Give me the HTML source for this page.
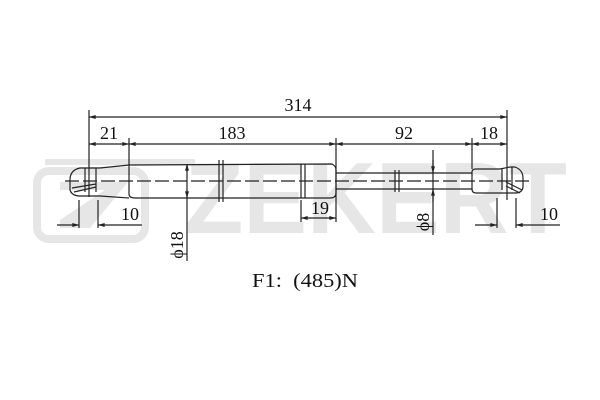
<!DOCTYPE html>
<html><head><meta charset="utf-8"><style>html,body{margin:0;padding:0;background:#fff}svg{display:block}</style></head>
<body>
<svg width="600" height="400" viewBox="0 0 600 400" xmlns="http://www.w3.org/2000/svg">
<defs>
<marker id="a" viewBox="0 0 10 6" refX="10" refY="3" markerWidth="10" markerHeight="4" orient="auto-start-reverse" markerUnits="userSpaceOnUse"><path d="M0,0 L10,3 L0,6z" fill="#222"/></marker>
</defs>
<g fill="#e6e6e6">
<rect x="45" y="159" width="150" height="6"/>
<rect x="37" y="171" width="108" height="68" rx="12" fill="none" stroke="#e6e6e6" stroke-width="8"/>
<path d="M60,182 L128,182 L90,228 L60,228 L60,220 L105,190 L60,190z" />
<text x="185" y="233" font-family="Liberation Sans, sans-serif" font-weight="bold" font-size="101" textLength="382" lengthAdjust="spacingAndGlyphs">ZEKERT</text>
</g>
<g stroke="#222" stroke-width="1.2" fill="none">
<line x1="65" y1="181" x2="530" y2="181" stroke-dasharray="14,4"/>
<path d="M129,165 L100,168 L80,168 Q70,170 70,180 L70,190 Q72,196 80,196 L100,196 L129,198"/>
<line x1="85" y1="168" x2="85" y2="192"/><line x1="96" y1="168" x2="96" y2="192"/>
<path d="M72,188 L96,184"/><path d="M74,192 L96,187"/>
<path d="M129,165 L332,164 Q336,166 336,170 L336,193 Q336,198 330,198 L135,198 Q129,198 129,194z"/>
<line x1="301" y1="164" x2="301" y2="198"/><line x1="305" y1="164" x2="305" y2="198"/>
<line x1="219" y1="160" x2="219" y2="202"/><line x1="223" y1="160" x2="223" y2="202"/>
<path d="M336,173 L472,173 M336,189 L472,189"/>
<line x1="395" y1="170" x2="395" y2="192"/><line x1="399" y1="170" x2="399" y2="192"/>
<path d="M472,172 Q472,169 476,169 L500,169 L510,167 L515,167 Q523,170 523,178 L523,186 Q523,193 515,193 L476,193 Q472,193 472,189z"/>
<line x1="502" y1="168" x2="502" y2="190"/><line x1="512" y1="167" x2="512" y2="190"/>
<path d="M506,182 L522,190"/><path d="M506,186 L520,193"/>
<line x1="89" y1="110" x2="89" y2="197"/>
<line x1="129" y1="138" x2="129" y2="165"/>
<line x1="336" y1="138" x2="336" y2="222"/>
<line x1="472" y1="138" x2="472" y2="169"/>
<line x1="507" y1="110" x2="507" y2="200"/>
<line x1="301" y1="200" x2="301" y2="222"/>
<line x1="79" y1="200" x2="79" y2="228"/><line x1="98" y1="200" x2="98" y2="228"/>
<line x1="497" y1="198" x2="497" y2="228"/><line x1="516" y1="198" x2="516" y2="228"/>
</g>
<g stroke="#222" stroke-width="1.2">
<line x1="89" y1="117" x2="507" y2="117" marker-start="url(#a)" marker-end="url(#a)"/>
<line x1="89" y1="144" x2="129" y2="144" marker-start="url(#a)" marker-end="url(#a)"/>
<line x1="129" y1="144" x2="336" y2="144" marker-start="url(#a)" marker-end="url(#a)"/>
<line x1="336" y1="144" x2="472" y2="144" marker-start="url(#a)" marker-end="url(#a)"/>
<line x1="472" y1="144" x2="507" y2="144" marker-start="url(#a)" marker-end="url(#a)"/>
<line x1="301" y1="218" x2="336" y2="218" marker-start="url(#a)" marker-end="url(#a)"/>
<line x1="57" y1="225" x2="79" y2="225" marker-end="url(#a)"/>
<line x1="142" y1="225" x2="98" y2="225" marker-end="url(#a)"/>
<line x1="475" y1="225" x2="497" y2="225" marker-end="url(#a)"/>
<line x1="560" y1="225" x2="516" y2="225" marker-end="url(#a)"/>
<line x1="187" y1="164" x2="187" y2="261"/>
<line x1="187" y1="172" x2="187" y2="164" marker-end="url(#a)"/>
<line x1="187" y1="190" x2="187" y2="198" marker-end="url(#a)"/>
<line x1="433" y1="150" x2="433" y2="235"/>
<line x1="433" y1="160" x2="433" y2="173" marker-end="url(#a)"/>
<line x1="433" y1="202" x2="433" y2="189" marker-end="url(#a)"/>
</g>
<g font-family="Liberation Serif, serif" font-size="18" fill="#111" text-anchor="middle">
<text x="298" y="111">314</text>
<text x="109" y="139">21</text>
<text x="232" y="139">183</text>
<text x="404" y="139">92</text>
<text x="489" y="139">18</text>
<text x="320" y="214">19</text>
<text x="130" y="220">10</text>
<text x="549" y="220">10</text>
<text transform="translate(183,245) rotate(-90)">ϕ18</text>
<text transform="translate(429,222) rotate(-90)">ϕ8</text>
<text x="305" y="287" font-size="20" textLength="106" lengthAdjust="spacingAndGlyphs" xml:space="preserve">F1:  (485)N</text>
</g>
</svg>
</body></html>
